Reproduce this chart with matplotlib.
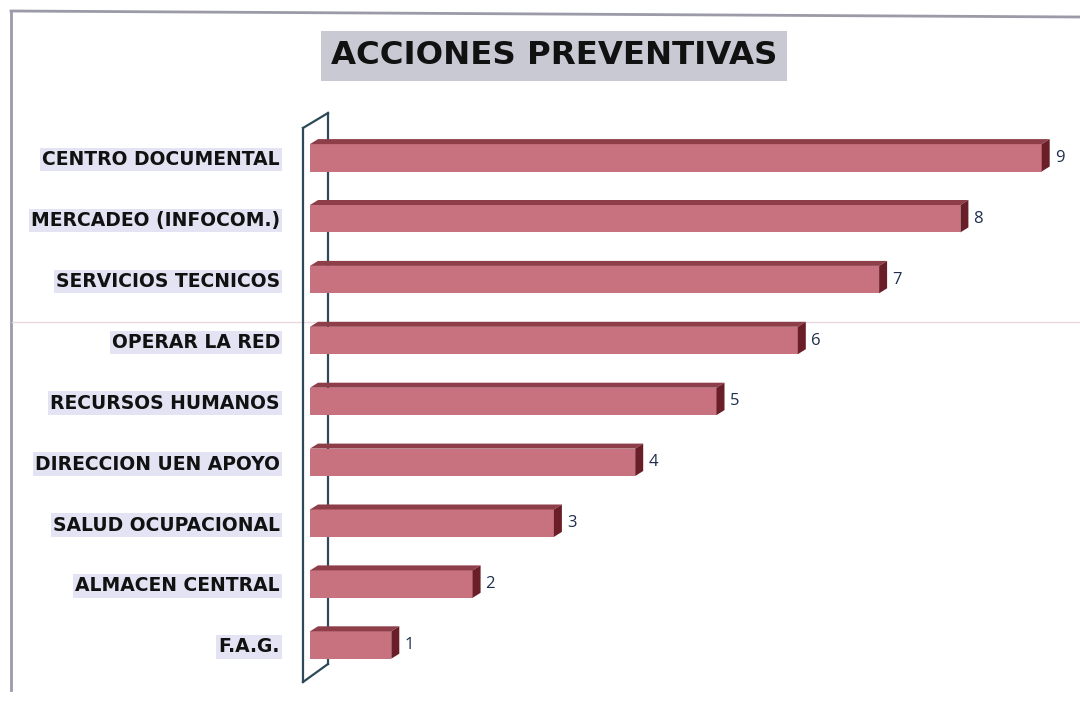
import matplotlib
matplotlib.use("Agg")
import matplotlib.pyplot as plt
from matplotlib.patches import Polygon
from matplotlib.lines import Line2D

categories = ["F.A.G.", "ALMACEN CENTRAL", "SALUD OCUPACIONAL", "DIRECCION UEN APOYO",
              "RECURSOS HUMANOS", "OPERAR LA RED", "SERVICIOS TECNICOS",
              "MERCADEO (INFOCOM.)", "CENTRO DOCUMENTAL"]
values = [1, 2, 3, 4, 5, 6, 7, 8, 9]
title = "ACCIONES PREVENTIVAS"

W, H = 1080, 705
fig = plt.figure(figsize=(W / 100, H / 100), dpi=100)
fig.patch.set_facecolor("white")

FONT = ["DejaVu Sans"]
NUMFONT = ["Open Sans", "DejaVu Sans"]

# pixel layout of plot area
x0_px, unit_px = 310, 81.3
y0_px, step_px = 645, 60.9
ax_left_px, ax_right_px = x0_px, W
ax_top_px, ax_bot_px = 95, 700
ax = fig.add_axes([ax_left_px / W, (H - ax_bot_px) / H,
                   (ax_right_px - ax_left_px) / W, (ax_bot_px - ax_top_px) / H])
ax.set_xlim(0, (ax_right_px - x0_px) / unit_px)
ax.set_ylim((y0_px - ax_bot_px) / step_px, (y0_px - ax_top_px) / step_px)
ax.axis("off")
ax.set_zorder(3)

def fpx(x, y):
    return x / W, (H - y) / H

# back wall of the 3D chart
wall = [((303, 128), (303, 682)), ((328, 113), (328, 664)),
        ((303, 128), (328, 113)), ((303, 682), (328, 664))]
for (a, b) in wall:
    (xa, ya), (xb, yb) = fpx(*a), fpx(*b)
    fig.add_artist(Line2D([xa, xb], [ya, yb], color="#2E4A58", lw=1.6, zorder=2))

# outer frame of the scanned page
for (a, b) in [((11, 11), (1080, 17)), ((11, 11), (11, 690))]:
    (xa, ya), (xb, yb) = fpx(*a), fpx(*b)
    fig.add_artist(Line2D([xa, xb], [ya, yb], color="#9A9AA8", lw=2.0, zorder=1))
(xa, ya), (xb, yb) = fpx(12, 322), fpx(1080, 322)
fig.add_artist(Line2D([xa, xb], [ya, yb], color="#E8D8E2", lw=1.0, zorder=1))

front = "#C8717F"
topc = "#8E3E49"
sidec = "#6A1E28"
h = 0.45
dx = 8 / unit_px
dy = 5 / step_px
ypos = list(range(len(categories)))

ax.barh(ypos, values, height=h, color=front, edgecolor="none", zorder=3)
for y, v in zip(ypos, values):
    top = Polygon([(0, y + h / 2), (v, y + h / 2), (v + dx, y + h / 2 + dy), (dx, y + h / 2 + dy)],
                  closed=True, facecolor=topc, edgecolor="none", zorder=3)
    side = Polygon([(v, y - h / 2), (v + dx, y - h / 2 + dy), (v + dx, y + h / 2 + dy), (v, y + h / 2)],
                   closed=True, facecolor=sidec, edgecolor="none", zorder=3)
    ax.add_patch(top)
    ax.add_patch(side)
    ax.text(v + dx + 5 / unit_px, y, str(v), ha="left", va="center",
            fontsize=12, color="#1E2E4C", family=NUMFONT, zorder=4)

# category labels
for y, c in zip(ypos, categories):
    ax.text(-30 / unit_px, y - 0.03, c, ha="right", va="center", fontsize=13.5,
            fontweight="bold", color="#111111", family=FONT, clip_on=False,
            bbox=dict(boxstyle="square,pad=0.12", facecolor="#E3E3F3", edgecolor="none"))

# title
fig.text(554 / W, (H - 56) / H, title, ha="center", va="center", fontsize=23.3,
         fontweight="bold", color="#111111", family=FONT,
         bbox=dict(boxstyle="square,pad=0.3", facecolor="#C9C9D4", edgecolor="none"))

fig.savefig("out.png", dpi=100)
